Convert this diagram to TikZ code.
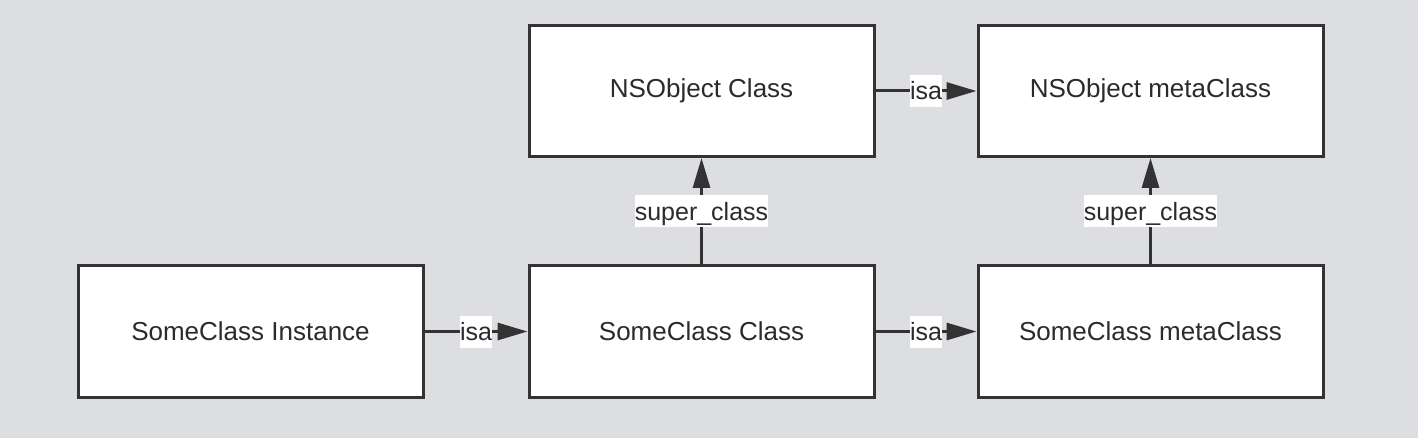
\documentclass[tikz,border=0pt]{standalone}
\usepackage{fontspec}
\setmainfont{Liberation Sans}
\usetikzlibrary{arrows.meta}
\definecolor{bg}{HTML}{DDDEE1}
\definecolor{ink}{HTML}{333333}
\begin{document}
\begin{tikzpicture}[x=1pt,y=-1pt,
  box/.style={draw=ink,line width=3pt,fill=white,minimum width=345pt,minimum height=131pt,inner sep=0pt,font=\fontsize{26}{30}\selectfont,text=ink!85!black},
  conn/.style={draw=ink,line width=3pt,-{Triangle[length=30pt,width=17pt]}},
  lbl/.style={fill=white,inner sep=0pt,text height=25pt,text depth=7pt,font=\fontsize{25}{30}\selectfont,text=ink!85!black}]
\fill[bg] (0,0) rectangle (1418,438);
\useasboundingbox (0,0) rectangle (1418,438);
\node[box] (inst) at (250.5,331.5) {SomeClass Instance};
\node[box] (scls) at (701.5,331.5) {SomeClass Class};
\node[box] (smeta) at (1150.5,331.5) {SomeClass metaClass};
\node[box] (ncls) at (701.5,91) {NSObject Class};
\node[box] (nmeta) at (1150.5,91) {NSObject metaClass};
\draw[conn] (inst.east) -- node[lbl] {isa} (scls.west);
\draw[conn] (scls.east) -- node[lbl] {isa} (smeta.west);
\draw[conn] (ncls.east) -- node[lbl] {isa} (nmeta.west);
\draw[conn] (scls.north) -- node[lbl] {super\_class} (ncls.south);
\draw[conn] (smeta.north) -- node[lbl] {super\_class} (nmeta.south);
\end{tikzpicture}
\end{document}
